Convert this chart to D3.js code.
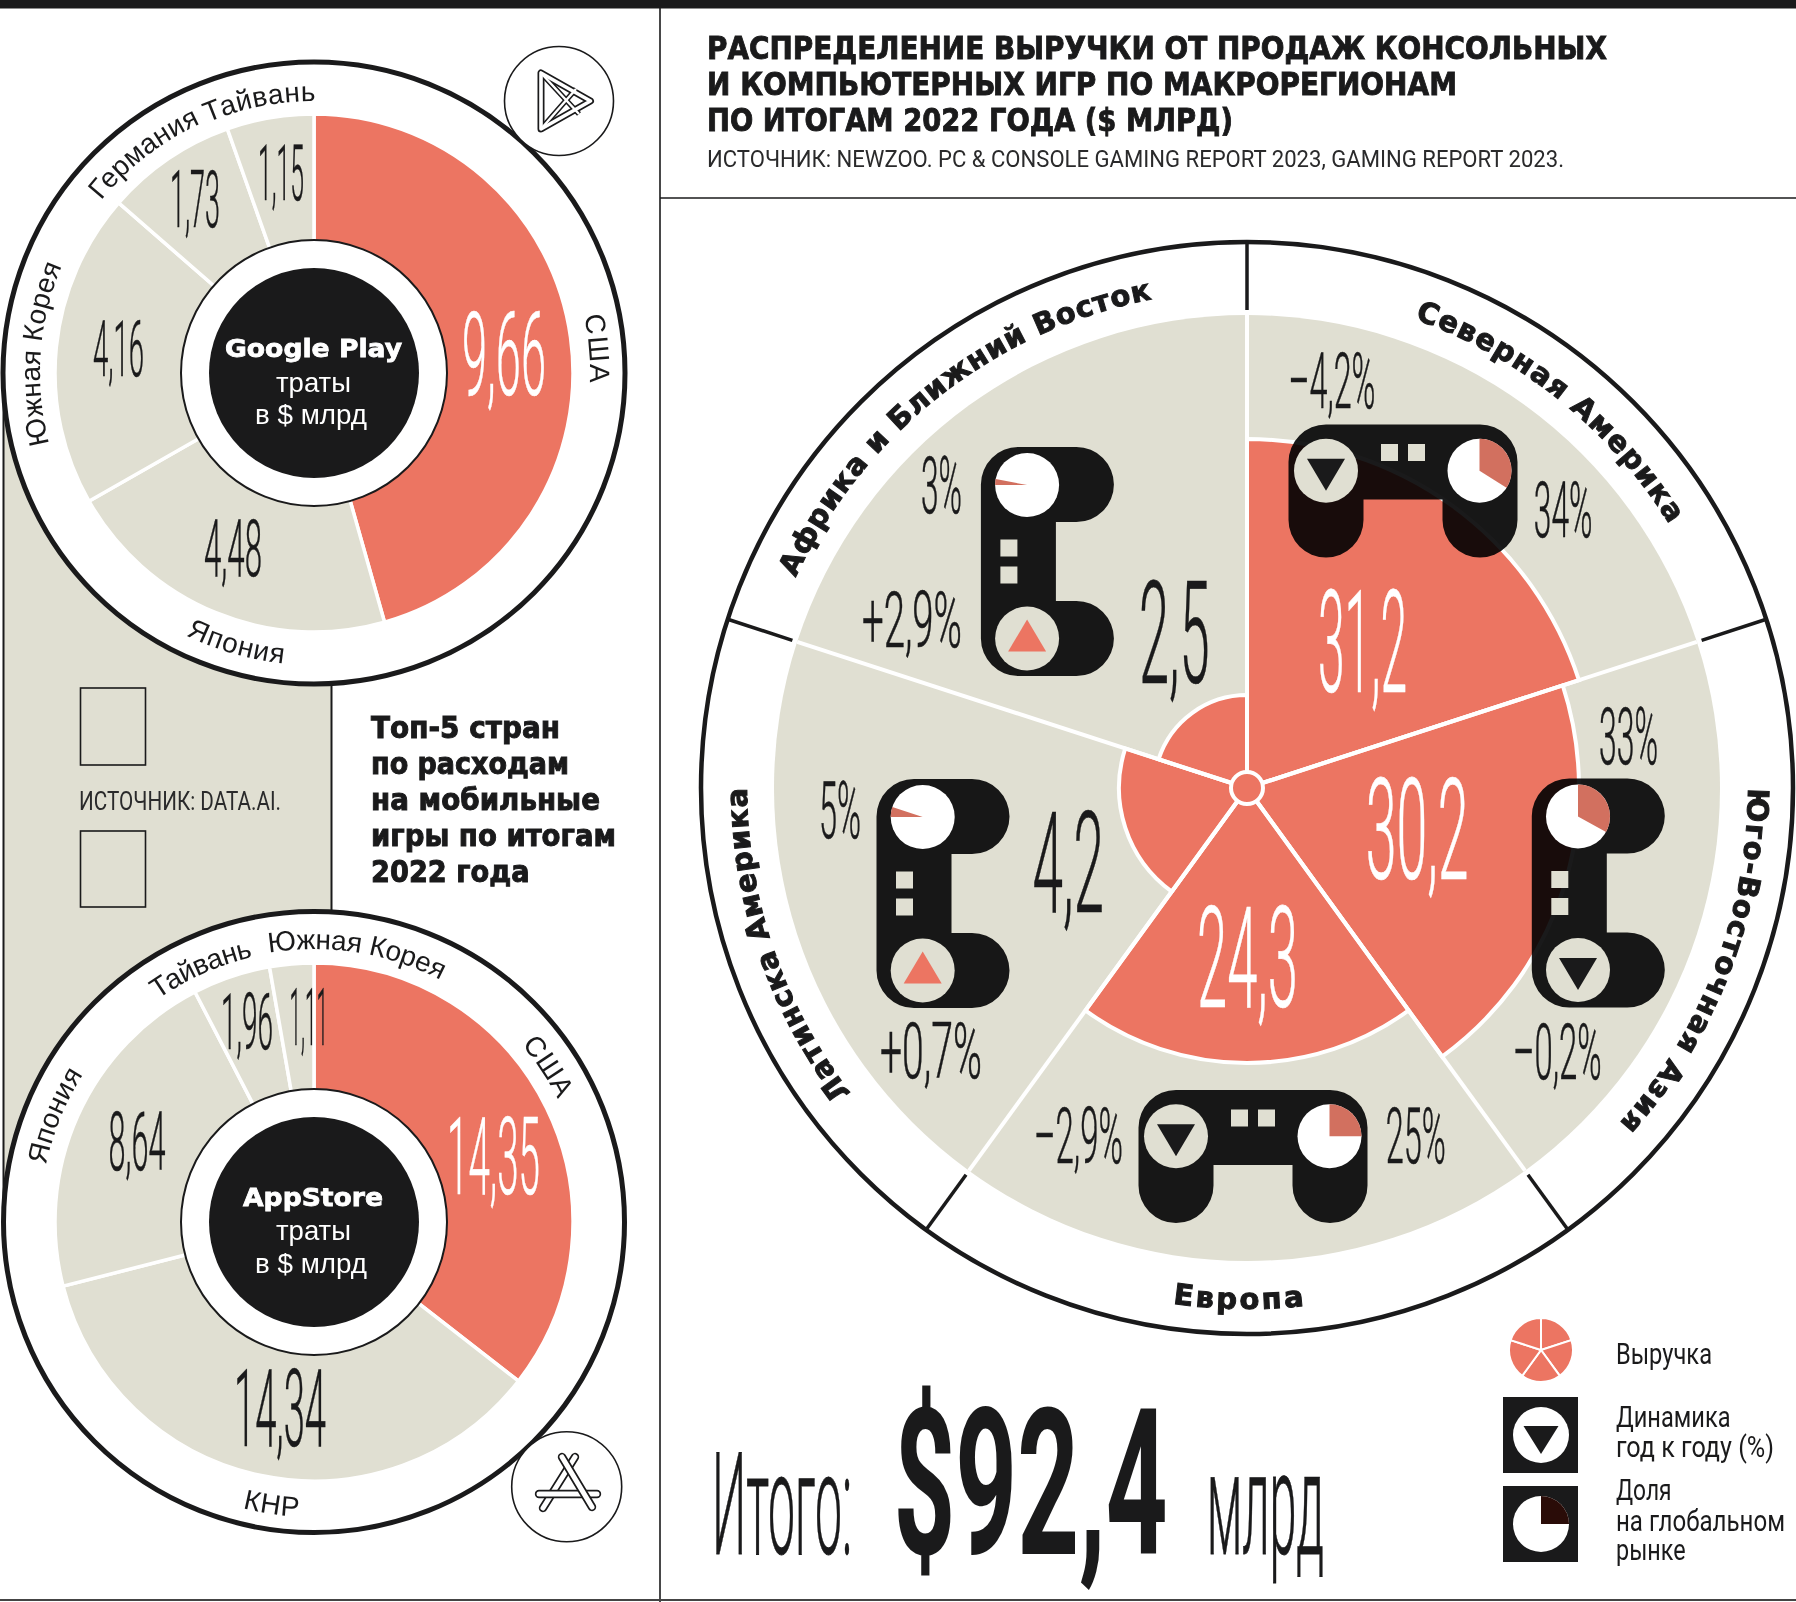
<!DOCTYPE html>
<html><head><meta charset="utf-8">
<script src="https://cdn.jsdelivr.net/npm/d3@7/dist/d3.min.js"></script>
<style>html,body{margin:0;padding:0;background:#fff}svg{display:block}</style>
</head><body><svg id="c" width="1796" height="1602" xmlns="http://www.w3.org/2000/svg"></svg>
<script>
// ---------- data ----------
const regions = ["Северная Америка","Юго-Восточная Азия","Европа","Латинска Америка","Африка и Ближний Восток"];
const revenue = [31.2,30.2,24.3,4.2,2.5];
const growth  = [-4.2,-0.2,-2.9,0.7,2.9];
const share   = [34,33,25,5,3];
const gpCountries = ["США","Япония","Южная Корея","Германия","Тайвань"];
const gpValues    = [9.66,4.48,4.16,1.73,1.15];
const asCountries = ["США","КНР","Япония","Тайвань","Южная Корея"];
const asValues    = [14.35,14.34,8.64,1.96,1.11];
const titleLines  = ["РАСПРЕДЕЛЕНИЕ ВЫРУЧКИ ОТ ПРОДАЖ КОНСОЛЬНЫХ","И КОМПЬЮТЕРНЫХ ИГР ПО МАКРОРЕГИОНАМ","ПО ИТОГАМ 2022 ГОДА ($ МЛРД)"];
const sourceMain  = "ИСТОЧНИК: NEWZOO. PC & CONSOLE GAMING REPORT 2023, GAMING REPORT 2023.";
const sourceApps  = "ИСТОЧНИК: DATA.AI.";
const sideTitle   = ["Топ-5 стран","по расходам","на мобильные","игры по итогам","2022 года"];
const totalValue  = 92.4;

// ---------- style and layout ----------
const INK="#1a1a1b", SALMON="#ec7562", BEIGE="#e0dfd2", WEDGE="#d2705f", MAROON="#2a0c08";
const HEAVY="'DejaVu Sans',sans-serif", THIN="'Liberation Sans Narrow',Roboto,sans-serif", NUM="Roboto,'Liberation Sans',sans-serif", REG="'Liberation Sans',Arial,sans-serif";
const svg=d3.select("#c");
const fmt=v=>String(v).replace(".",",");
const signed=v=>(v>0?"+":"–")+fmt(Math.abs(v))+"%";
const rad=d=>d*Math.PI/180;

function fit(g,t,x0,x1,base,fs,o={}){
  return g.append("text").text(t).attr("x",x0).attr("y",base)
   .attr("font-family",o.family||THIN).attr("font-weight",o.weight||400).attr("font-size",fs)
   .attr("fill",o.fill||INK).attr("textLength",x1-x0).attr("lengthAdjust","spacingAndGlyphs")
   .attr("stroke",o.stroke||null).attr("stroke-width",o.sw||null);
}
const tall=(g,t,b,fill)=>fit(g,t,b[0],b[1],b[3],(b[3]-b[2])/0.711,{family:NUM,weight:300,fill:fill,stroke:fill,sw:0.6});

let pid=0;
function curved(g,cx,cy,t,a0,a1,r,o={}){
  const cw=a1>a0, id="p"+(pid++), ext=cw?30:-30;
  const P=a=>[cx+r*Math.sin(rad(a)),cy-r*Math.cos(rad(a))];
  const s=P(a0),e=P(a1+ext);
  g.append("path").attr("id",id).attr("fill","none")
   .attr("d",`M${s[0]},${s[1]}A${r},${r} 0 0 ${cw?1:0} ${e[0]},${e[1]}`);
  const tx=g.append("text").attr("font-family",o.family||REG).attr("font-weight",o.weight||400)
    .attr("font-size",o.fs||27).attr("fill",INK).attr("stroke",o.stroke||null).attr("stroke-width",o.sw||null);
  tx.append("textPath").attr("href","#"+id).text(t);
  const want=Math.abs(a1-a0)*Math.PI/180*r, have=tx.node().getComputedTextLength();
  tx.attr("letter-spacing",(want-have)/Math.max(1,t.length-1));
}

// ---------- frame ----------
svg.append("rect").attr("x",3.5).attr("y",373).attr("width",328).attr("height",850).attr("fill",BEIGE);
svg.append("line").attr("x1",3.5).attr("x2",3.5).attr("y1",373).attr("y2",1223).attr("stroke",INK).attr("stroke-width",2);
svg.append("line").attr("x1",331.5).attr("x2",331.5).attr("y1",680).attr("y2",915).attr("stroke",INK).attr("stroke-width",2);
svg.append("rect").attr("x",0).attr("y",0).attr("width",1796).attr("height",8.5).attr("fill",INK);
svg.append("line").attr("x1",660).attr("x2",660).attr("y1",8).attr("y2",1602).attr("stroke",INK).attr("stroke-width",1.6);
svg.append("line").attr("x1",660).attr("x2",1796).attr("y1",198).attr("y2",198).attr("stroke",INK).attr("stroke-width",1.6);
svg.append("line").attr("x1",0).attr("x2",1796).attr("y1",1600).attr("y2",1600).attr("stroke","#444").attr("stroke-width",2);
[[688,765],[831,907]].forEach(b=>svg.append("rect").attr("x",80.5).attr("y",b[0]).attr("width",65).attr("height",b[1]-b[0])
  .attr("fill","none").attr("stroke",INK).attr("stroke-width",1.6));
fit(svg,sourceApps,79,281,810,25,{fill:"#2a2a2b"});
const sideX=[[371,560],[371,569],[371,600],[371,616],[371,529.5]];
sideTitle.forEach((t,i)=>fit(svg,t,sideX[i][0],sideX[i][1],738+i*36,30,{family:HEAVY,weight:700,stroke:INK,sw:1}));

// title
const titleX=[1607,1457,1233];
titleLines.forEach((t,i)=>fit(svg,t,707,titleX[i],59+i*36,31.5,{family:HEAVY,weight:700,stroke:INK,sw:0.9}));
fit(svg,sourceMain,707,1564,167,24,{fill:"#2a2a2b"});

// ---------- donut panels ----------
function donut(cx,cy,R,values,names,labels,numBoxes,head,heads){
  const g=svg.append("g");
  const pie=d3.pie().sort(null)(values);
  const sect=d3.arc().innerRadius(0).outerRadius(259);
  g.append("circle").attr("cx",cx).attr("cy",cy).attr("r",R).attr("fill","#fff").attr("stroke",INK).attr("stroke-width",5);
  const s=g.append("g").attr("transform",`translate(${cx},${cy})`);
  s.selectAll("path").data(pie).join("path").attr("d",sect)
    .attr("fill",(d,i)=>i===0?SALMON:BEIGE).attr("stroke","#fff").attr("stroke-width",3.5);
  s.append("circle").attr("r",133).attr("fill","#fff").attr("stroke",INK).attr("stroke-width",2);
  s.append("circle").attr("r",105).attr("fill",INK);
  values.forEach((v,i)=>tall(g,fmt(v),numBoxes[i],i===0?"#fff":INK));
  names.forEach((n,i)=>{const l=labels[i];curved(g,cx,cy,n,l[0],l[1],l[2],{fs:28});});
  fit(g,head,heads[0][0],heads[0][1],heads[0][2],25,{family:HEAVY,weight:700,fill:"#fff",stroke:"#fff",sw:0.8});
  fit(g,"траты",276,351,heads[1],28,{family:REG,weight:400,fill:"#fff"});
  fit(g,"в $ млрд",255,367,heads[2],28,{family:REG,weight:400,fill:"#fff"});
}
donut(314,373,311,gpValues,gpCountries,
  [[78,92,276],[206,186,292],[255,293,274],[309,335.5,274],[337,0.3+360,272]],
  [[462,546,312.5,395],[204,262,520,576],[93,144,320.5,376],[170,220,170.5,227],[258,304,144,199.5]],
  "Google Play",[[225,402,357],392,424]);
donut(314,1222,310.5,asValues,asCountries,
  [[49.5,63.3,273],[194,183,295],[282,302.6,274],[325,347,272],[350.5,387.6,273]],
  [[447,540,1116.6,1193.5],[234,326,1370,1446],[108.6,165.4,1112,1169.5],[221,273,993.4,1049],[289.6,328,987.4,1044.5]],
  "AppStore",[[243,383,1205.5],1240,1273]);

// double-outline icons
function outlined(g,paths,w,wi){
  const put=(c,sw)=>paths.forEach(d=>g.append("path").attr("d",d).attr("fill","none").attr("stroke",c).attr("stroke-width",sw).attr("stroke-linecap","round").attr("stroke-linejoin","round"));
  put(INK,w);put("#fff",wi);
}
const ic1=svg.append("g");
ic1.append("circle").attr("cx",559).attr("cy",101).attr("r",54.5).attr("fill","#fff").attr("stroke",INK).attr("stroke-width",1.6);
ic1.append("path").attr("d","M541,73L541,129L590.5,101Z").attr("fill","none").attr("stroke",INK).attr("stroke-width",7).attr("stroke-linejoin","round");
ic1.append("path").attr("d","M541,73L579,114M541,129L576,89").attr("fill","none").attr("stroke",INK).attr("stroke-width",5.4);
ic1.append("path").attr("d","M541,73L541,129L590.5,101Z").attr("fill","none").attr("stroke","#fff").attr("stroke-width",3.6).attr("stroke-linejoin","round");
ic1.append("path").attr("d","M541,73L579,114M541,129L576,89").attr("fill","none").attr("stroke","#fff").attr("stroke-width",2.4);
const ic2=svg.append("g");
ic2.append("circle").attr("cx",566.7).attr("cy",1486.7).attr("r",55).attr("fill","#fff").attr("stroke",INK).attr("stroke-width",1.6);
[`M575,1457L543,1508`,`M539,1494L597,1494`,`M562,1457L592,1507`].forEach(d=>outlined(ic2,[d],8.4,5));

// ---------- main radial chart ----------
const CX=1247,CY=788,RO=546,RB=473;
const main=svg.append("g").attr("transform",`translate(${CX},${CY})`);
const rScale=d3.scaleLinear().domain([2.5,4.2,24.3,30.2,31.2]).range([93,128,275,332,349]);
const eq=d3.pie().sort(null).value(()=>1);
const wedges=eq(revenue);
main.append("circle").attr("r",RO).attr("fill","#fff").attr("stroke",INK).attr("stroke-width",4.5);
main.append("g").selectAll("path").data(wedges).join("path")
  .attr("d",d3.arc().innerRadius(0).outerRadius(RB)).attr("fill",BEIGE);
main.append("g").selectAll("path").data(wedges).join("path")
  .attr("d",d=>d3.arc().innerRadius(0).outerRadius(rScale(d.data))(d))
  .attr("fill",SALMON).attr("stroke","#fff").attr("stroke-width",4);
const ang=d=>d.startAngle;
main.append("g").selectAll("line").data(wedges).join("line")
  .attr("x2",d=>RB*Math.sin(ang(d))).attr("y2",d=>-RB*Math.cos(ang(d)))
  .attr("stroke","#fff").attr("stroke-width",4);
main.append("g").selectAll("line").data(wedges).join("line")
  .attr("x1",d=>478*Math.sin(ang(d))).attr("y1",d=>-478*Math.cos(ang(d)))
  .attr("x2",d=>RO*Math.sin(ang(d))).attr("y2",d=>-RO*Math.cos(ang(d)))
  .attr("stroke",INK).attr("stroke-width",3.5);
main.append("circle").attr("r",16).attr("fill",SALMON).attr("stroke","#fff").attr("stroke-width",4);

// controllers
const padLayout=[[1403,491,0,0],[1598.3,893,-90,0],[1253,1156.5,0,0],[943,893.5,-90,270],[1047.4,561.5,-90,270]];
const padBody="M-77,-66.5H77A37.5,37.5 0 0 1 114.5,-29V29A37.5,37.5 0 0 1 39.5,29V8.5H-39.5V29A37.5,37.5 0 0 1 -114.5,29V-29A37.5,37.5 0 0 1 -77,-66.5Z";
revenue.forEach((_,i)=>{
  const [cx,cy,rot,start]=padLayout[i];
  const m=p=>rot?[cx+p[1],cy-p[0]]:[cx+p[0],cy+p[1]];
  svg.append("path").attr("d",padBody).attr("transform",`translate(${cx},${cy}) rotate(${rot})`)
    .attr("fill",INK).style("mix-blend-mode","multiply");
  [[-13.5,-38.5],[13.5,-38.5]].forEach(p=>{const q=m(p);
    svg.append("rect").attr("x",q[0]-8.5).attr("y",q[1]-8.5).attr("width",17).attr("height",17).attr("fill",BEIGE);});
  const pb=m([76.5,-20.3]), tb=m([-77,-20.3]);
  svg.append("circle").attr("cx",pb[0]).attr("cy",pb[1]).attr("r",32).attr("fill","#fff");
  const sl=d3.pie().sort(null).startAngle(rad(start)).endAngle(rad(start+360))([share[i],100-share[i]])[0];
  svg.append("path").attr("transform",`translate(${pb[0]},${pb[1]})`)
    .attr("d",d3.arc().innerRadius(0).outerRadius(32)(sl)).attr("fill",WEDGE);
  svg.append("circle").attr("cx",tb[0]).attr("cy",tb[1]).attr("r",32).attr("fill",BEIGE);
  const up=growth[i]>0;
  svg.append("path").attr("transform",`translate(${tb[0]},${tb[1]})`)
    .attr("d",up?"M-19,13H19L0,-19Z":"M-19,-12H19L0,20Z").attr("fill",up?SALMON:INK);
});

// numbers of the main chart
const revBox=[[1318,1407,590.5,691.5],[1365.7,1468.6,779,879.3],[1197,1298,906.7,1006.7],[1032.6,1104,811.7,911.7],[1139,1209.6,581.7,683]];
const shareBox=[[1533.8,1592.4,481.4,537],[1599,1658,708,764],[1385.7,1445.7,1108,1163],[819,861,782,838],[921,962,456.5,512.8]];
const growBox=[[1288.6,1375.4,353,408.3],[1513,1601.7,1024,1079.3],[1034,1123,1108,1163.3],[880,982,1022.7,1078],[862,962,591,646.7]];
revenue.forEach((v,i)=>{
  tall(svg,fmt(v),revBox[i],i<3?"#fff":INK);
  tall(svg,share[i]+"%",shareBox[i],INK);
  tall(svg,signed(growth[i]),growBox[i],INK);
});

// region captions
const capt=[[19.7,58,498],[90,132,501],[188.2,173.7,521],[232.4,270,500],[295,349,498]];
regions.forEach((n,i)=>curved(svg,CX,CY,n,capt[i][0],capt[i][1],capt[i][2],{family:HEAVY,weight:700,fs:29,stroke:INK,sw:1}));

// total
fit(svg,"Итого:",712,852,1554,142,{family:NUM,weight:300,stroke:INK,sw:0.8});
fit(svg,"$"+fmt(totalValue),893.5,1167.5,1554,205,{weight:700});
fit(svg,"млрд",1206.7,1324,1554,144,{family:NUM,weight:300,stroke:INK,sw:0.8});

// legend
const lg=svg.append("g").attr("transform","translate(1541,1350)");
lg.selectAll("path").data(wedges).join("path").attr("d",d3.arc().innerRadius(0).outerRadius(32)).attr("fill",SALMON).attr("stroke","#fff").attr("stroke-width",2);
svg.append("rect").attr("x",1503).attr("y",1397).attr("width",75).attr("height",76).attr("fill",INK);
svg.append("circle").attr("cx",1541).attr("cy",1435).attr("r",28).attr("fill","#fff");
svg.append("path").attr("transform","translate(1541,1435)").attr("d","M-17.5,-9H17.5L0,19Z").attr("fill",INK);
svg.append("rect").attr("x",1503).attr("y",1486).attr("width",75).attr("height",76).attr("fill",INK);
svg.append("circle").attr("cx",1541).attr("cy",1524).attr("r",28).attr("fill","#fff");
const lgSlice=d3.pie().sort(null)([25,75])[0];
svg.append("path").attr("transform","translate(1541,1524)").attr("d",d3.arc().innerRadius(0).outerRadius(28)(lgSlice)).attr("fill",MAROON);
[["Выручка",1712,1364],["Динамика",1730.5,1427],["год к году (%)",1774,1456.6],["Доля",1671.5,1500],["на глобальном",1785,1530.6],["рынке",1685.6,1560]]
 .forEach(a=>fit(svg,a[0],1616,a[1],a[2],30));
</script></body></html>
